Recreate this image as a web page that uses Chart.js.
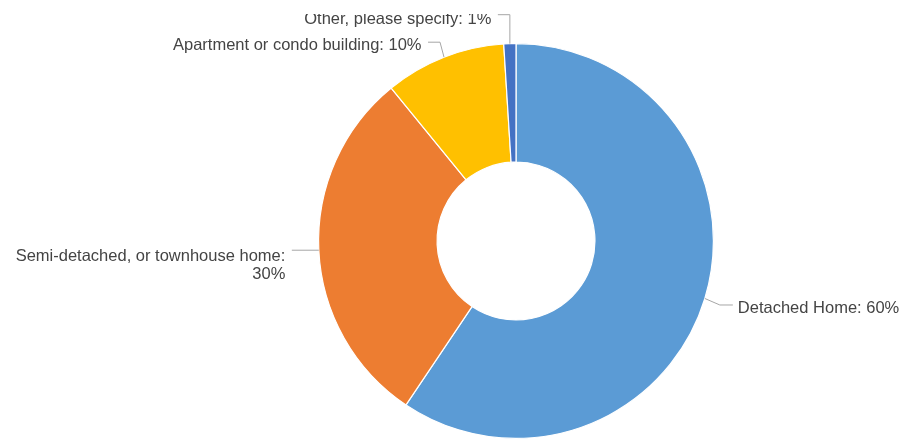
<!DOCTYPE html>
<html>
<head>
<meta charset="utf-8">
<script src="https://cdn.jsdelivr.net/npm/chart.js@4.4.1/dist/chart.umd.min.js"></script>
<style>
  html, body { margin: 0; padding: 0; background: #ffffff; }
  #wrap { position: relative; width: 905px; height: 441px; }
</style>
</head>
<body>
<div id="wrap"><canvas id="c" width="905" height="441"></canvas></div>
<script>
// ---- data ----
const categories = ['Detached Home', 'Semi-detached, or townhouse home', 'Apartment or condo building', 'Other, please specify'];
const values = [60, 30, 10, 1];
const percentLabels = ['60%', '30%', '10%', '1%'];
const labelBreaks = [false, true, false, false];
const colors = ['#5B9BD5', '#ED7D31', '#FFC000', '#4472C4'];

// connector styling per slice (offsets relative to the slice's outer mid point)
const connElbowDx = [15, 0, -4, 0];
const connElbowDy = [6.5, 0, -15, -29];
const connLen = [13, 27, 12, 12];
const textBaseDy = [7.7, 11, 7.7, 9.3];

const labelPlugin = {
  id: 'outLabels',
  afterDatasetsDraw(chart) {
    const ctx = chart.ctx;
    const meta = chart.getDatasetMeta(0);
    const texts = [];
    ctx.save();
    ctx.strokeStyle = '#a6a6a6';
    ctx.lineWidth = 1;
    meta.data.forEach((arc, i) => {
      const p = arc.getProps(['x', 'y', 'startAngle', 'endAngle', 'outerRadius'], true);
      const mid = (p.startAngle + p.endAngle) / 2;
      const x0 = p.x + Math.cos(mid) * p.outerRadius;
      const y0 = p.y + Math.sin(mid) * p.outerRadius;
      const right = x0 > p.x;
      const x1 = x0 + connElbowDx[i];
      const y1 = y0 + connElbowDy[i];
      const x2 = right ? x1 + connLen[i] : x1 - connLen[i];
      ctx.beginPath();
      ctx.moveTo(x0, y0);
      ctx.lineTo(x1, y1);
      ctx.lineTo(x2, y1);
      ctx.stroke();
      const full = categories[i] + ': ' + percentLabels[i];
      const lines = labelBreaks[i] ? [categories[i] + ':', percentLabels[i]] : [full];
      const tx = right ? x2 + 5 : x2 - 6.5;
      texts.push({ lines, tx, ty: y1 + textBaseDy[i], right });
    });
    ctx.restore();

    ctx.save();
    ctx.beginPath();
    ctx.rect(0, 14, chart.width, chart.height);
    ctx.clip();
    ctx.font = '16.5px "Liberation Sans", Arial, sans-serif';
    ctx.fillStyle = '#444444';
    ctx.textBaseline = 'alphabetic';
    texts.forEach(t => {
      ctx.textAlign = t.right ? 'left' : 'right';
      t.lines.forEach((ln, k) => ctx.fillText(ln, t.tx, t.ty + k * 18));
    });
    ctx.restore();
  }
};

new Chart(document.getElementById('c'), {
  type: 'doughnut',
  data: {
    labels: categories,
    datasets: [{
      data: values,
      backgroundColor: colors,
      borderColor: '#ffffff',
      borderWidth: 1.2
    }]
  },
  options: {
    responsive: false,
    animation: false,
    events: [],
    cutout: '40%',
    layout: { padding: { left: 318, right: 191, top: 43, bottom: 2 } },
    plugins: {
      legend: { display: false },
      tooltip: { enabled: false }
    }
  },
  plugins: [labelPlugin]
});
</script>
</body>
</html>
